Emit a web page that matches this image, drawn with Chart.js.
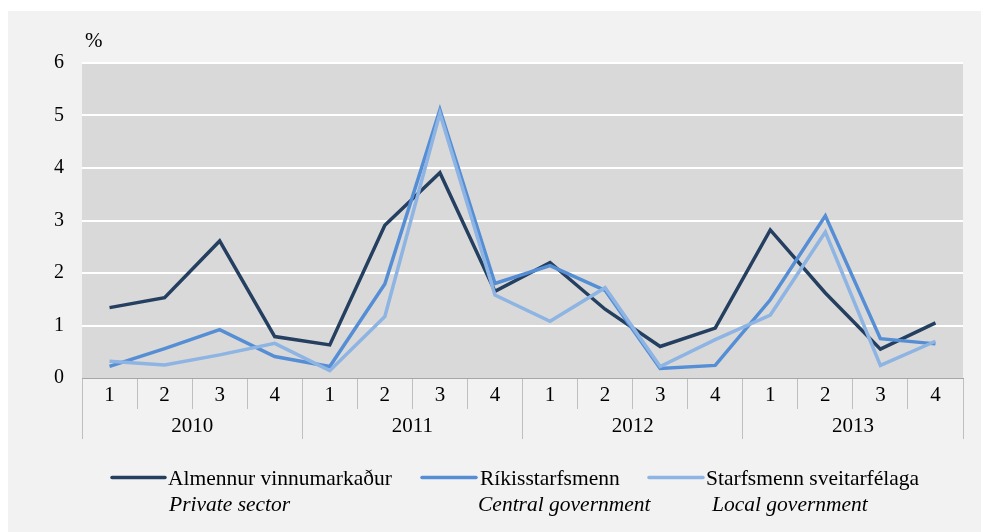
<!DOCTYPE html>
<html>
<head>
<meta charset="utf-8">
<script src="https://cdn.jsdelivr.net/npm/chart.js@4/dist/chart.umd.min.js"></script>
<style>
    html, body { margin: 0; padding: 0; background: #ffffff; }
    canvas { display: block; }
</style>
</head>
<body>
<canvas id="chart" width="981" height="532"></canvas>
<script>
const quarterLabels = ["1", "2", "3", "4", "1", "2", "3", "4", "1", "2", "3", "4", "1", "2", "3", "4"];
const yearLabels = ["2010", "2011", "2012", "2013"];

const privateSector = [1.34, 1.53, 2.61, 0.79, 0.63, 2.91, 3.91, 1.65, 2.2, 1.31, 0.6, 0.95, 2.82, 1.62, 0.55, 1.05];
const centralGov = [0.22, 0.56, 0.92, 0.41, 0.22, 1.79, 5.11, 1.8, 2.14, 1.67, 0.18, 0.24, 1.49, 3.09, 0.75, 0.65];
const localGov = [0.32, 0.25, 0.44, 0.66, 0.14, 1.17, 5.04, 1.58, 1.08, 1.72, 0.22, 0.73, 1.2, 2.78, 0.24, 0.7];

const seriesNames = ["Almennur vinnumarkaður", "Ríkisstarfsmenn", "Starfsmenn sveitarfélaga"];
const seriesNamesEn = ["Private sector", "Central government", "Local government"];
const yTicks = [0, 1, 2, 3, 4, 5, 6];

const colors = {
    dark: "#243f60",
    mid: "#558ed5",
    light: "#8db4e2",
    panel: "#f2f2f2",
    plot: "#d9d9d9",
    axis: "#a6a6a6",
    tick: "#bfbfbf"
};

const serif = "'Liberation Serif', 'Times New Roman', serif";

// panel + plot background
const backgroundPlugin = {
    id: "background",
    beforeDraw(chart) {
        const { ctx, chartArea } = chart;
        ctx.save();
        ctx.fillStyle = "#ffffff";
        ctx.fillRect(0, 0, chart.width, chart.height);
        ctx.fillStyle = colors.panel;
        ctx.fillRect(8, 11, chart.width - 8, chart.height - 11);
        ctx.fillStyle = colors.plot;
        ctx.fillRect(chartArea.left, chartArea.top, chartArea.right - chartArea.left, chartArea.bottom - chartArea.top);
        ctx.restore();
    }
};

// "%" unit label and the two-line legend
const legendPlugin = {
    id: "customLegend",
    afterDraw(chart) {
        const { ctx } = chart;
        ctx.save();
        ctx.fillStyle = "#000";
        ctx.textBaseline = "middle";
        ctx.font = `21px ${serif}`;
        ctx.fillText("%", 85, 41);

        const items = [
            { x1: 112, x2: 165, tx: 168, ex: 169 },
            { x1: 422, x2: 476, tx: 480, ex: 478 },
            { x1: 649, x2: 703, tx: 706, ex: 712 }
        ];
        chart.data.datasets.forEach((ds, i) => {
            const it = items[i];
            ctx.strokeStyle = ds.borderColor;
            ctx.lineWidth = 3.5;
            ctx.lineCap = "round";
            ctx.beginPath();
            ctx.moveTo(it.x1, 477.5);
            ctx.lineTo(it.x2, 477.5);
            ctx.stroke();

            ctx.textBaseline = "alphabetic";
            ctx.fillStyle = "#000";
            ctx.font = `21.5px ${serif}`;
            ctx.fillText(ds.label, it.tx, 485);
            ctx.font = `italic 21.5px ${serif}`;
            ctx.fillText(seriesNamesEn[i], it.ex, 511);
        });
        ctx.restore();
    }
};

new Chart(document.getElementById("chart"), {
    type: "line",
    data: {
        labels: quarterLabels,
        datasets: [
            { label: seriesNames[0], data: privateSector, borderColor: colors.dark, order: 3 },
            { label: seriesNames[1], data: centralGov, borderColor: colors.mid, order: 2 },
            { label: seriesNames[2], data: localGov, borderColor: colors.light, order: 1 }
        ]
    },
    options: {
        responsive: false,
        animation: false,
        devicePixelRatio: 1,
        layout: { padding: { left: 0, top: 63, right: 18, bottom: 93 } },
        elements: {
            line: { borderWidth: 3.5, tension: 0, fill: false },
            point: { radius: 0, hoverRadius: 0 }
        },
        plugins: {
            legend: { display: false },
            tooltip: { enabled: false }
        },
        scales: {
            y: {
                min: 0,
                max: 6,
                afterFit: (scale) => { scale.width = 82; },
                afterBuildTicks: (scale) => { scale.ticks = yTicks.map((v) => ({ value: v })); },
                grid: {
                    color: (c) => (c.tick && c.tick.value === 0 ? "rgba(0,0,0,0)" : "#ffffff"),
                    lineWidth: 2,
                    drawTicks: false
                },
                border: { display: false },
                ticks: { color: "#000", padding: 18, font: { family: serif, size: 20 } }
            },
            x: {
                offset: true,
                afterFit: (scale) => { scale.height = 31; },
                grid: {
                    offset: true,
                    drawOnChartArea: false,
                    drawTicks: true,
                    tickLength: 31,
                    color: colors.tick,
                    lineWidth: 1
                },
                border: { display: true, color: colors.axis, width: 1 },
                ticks: { color: "#000", padding: -26, maxRotation: 0, autoSkip: false, font: { family: serif, size: 21 } }
            },
            x2: {
                type: "category",
                position: "bottom",
                labels: yearLabels,
                offset: true,
                afterFit: (scale) => { scale.height = 30; },
                grid: {
                    offset: true,
                    drawOnChartArea: false,
                    drawTicks: true,
                    tickLength: 30,
                    color: colors.tick,
                    lineWidth: 1
                },
                border: { display: false },
                ticks: { color: "#000", padding: -25, maxRotation: 0, autoSkip: false, font: { family: serif, size: 21 } }
            }
        }
    },
    plugins: [backgroundPlugin, legendPlugin]
});
</script>
</body>
</html>
